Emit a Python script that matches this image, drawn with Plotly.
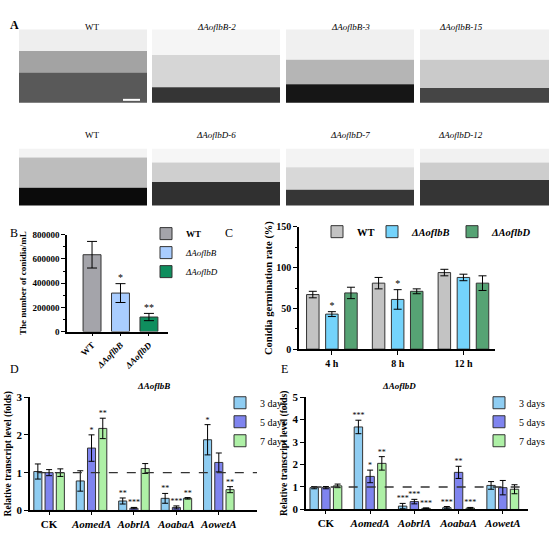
import numpy as np
import plotly.graph_objects as go

W, H = 550, 536
SERIF = '"Liberation Serif", "Times New Roman", serif'

# ---- panel B: conidia yield
strains = ["WT", "ΔAoflbB", "ΔAoflbD"]
conidia = [635000, 318000, 120000]
conidia_err = [110000, 78000, 30000]
conidia_sig = ["", "*", "**"]

# ---- panel C: germination rate
times = ["4 h", "8 h", "12 h"]
germ_wt = [67, 81, 94]
germ_wt_err = [4, 7, 4]
germ_flbB = [43, 61, 88]
germ_flbB_err = [3, 12, 4]
germ_flbD = [69, 71, 81]
germ_flbD_err = [7, 3, 9]
germ_flbB_sig = ["*", "*", ""]

# ---- panels D/E: transcript levels
genes = ["CK", "AomedA", "AobrlA", "AoabaA", "AowetA"]
days = ["3 days", "5 days", "7 days"]

flbB_3d = [1.03, 0.78, 0.25, 0.32, 1.87]
flbB_3d_err = [0.20, 0.27, 0.08, 0.13, 0.40]
flbB_5d = [1.00, 1.65, 0.06, 0.08, 1.27]
flbB_5d_err = [0.08, 0.35, 0.02, 0.04, 0.25]
flbB_7d = [1.00, 2.17, 1.11, 0.32, 0.55]
flbB_7d_err = [0.10, 0.27, 0.13, 0.02, 0.08]
flbB_3d_sig = ["", "", "**", "**", "*"]
flbB_5d_sig = ["", "*", "***", "***", ""]
flbB_7d_sig = ["", "**", "", "**", "**"]

flbD_3d = [0.97, 3.67, 0.15, 0.08, 1.07]
flbD_3d_err = [0.05, 0.30, 0.12, 0.05, 0.17]
flbD_5d = [0.97, 1.47, 0.35, 1.65, 0.97]
flbD_5d_err = [0.05, 0.28, 0.10, 0.27, 0.32]
flbD_7d = [1.05, 2.05, 0.05, 0.06, 0.90]
flbD_7d_err = [0.08, 0.30, 0.02, 0.03, 0.20]
flbD_3d_sig = ["", "***", "***", "***", ""]
flbD_5d_sig = ["", "*", "***", "**", ""]
flbD_7d_sig = ["", "**", "***", "***", ""]

# ---- panel A: photo tiles (labels only, photos drawn as plain tiles)
photo_labels_top = ["WT", "ΔAoflbB-2", "ΔAoflbB-3", "ΔAoflbB-15"]
photo_labels_bottom = ["WT", "ΔAoflbD-6", "ΔAoflbD-7", "ΔAoflbD-12"]


def px(x):
    return x / W


def py(y):
    return 1 - y / H


fig = go.Figure()

# panel B
b_colors = ["#a4a4aa", "#a9cdff", "#0f8e5e"]
for i, (name, v, e, c) in enumerate(zip(strains, conidia, conidia_err, b_colors)):
    label = "<b>" + name + "</b>" if name == "WT" else "<i>" + name + "</i>"
    fig.add_trace(go.Bar(
        x=[i], y=[v], width=0.63, name=label, marker_color=c,
        marker_line=dict(color="#333333", width=1),
        error_y=dict(type="data", array=[e], color="black", thickness=1, width=5),
        xaxis="x", yaxis="y", legend="legend"))
fig.add_trace(go.Scatter(
    x=np.arange(len(strains)), y=np.array(conidia) + np.array(conidia_err),
    text=conidia_sig, mode="text", textposition="top center",
    textfont=dict(size=10, family=SERIF), showlegend=False, xaxis="x", yaxis="y"))

# panel C (one small legend per entry so the keys sit where the original has them)
c_series = [("<b>WT</b>", germ_wt, germ_wt_err, "#c3c3c3", None, "legend2"),
            ("<b><i>ΔAoflbB</i></b>", germ_flbB, germ_flbB_err, "#74d3fb", germ_flbB_sig,
             "legend5"),
            ("<b><i>ΔAoflbD</i></b>", germ_flbD, germ_flbD_err, "#56a374", None, "legend6")]
c_off = [-0.29, 0.0, 0.29]
for (name, vals, errs, col, sig, lg), off in zip(c_series, c_off):
    xs = np.arange(len(times)) + off
    fig.add_trace(go.Bar(
        x=xs, y=vals, width=0.19, name=name, marker_color=col,
        marker_line=dict(color="#333333", width=1),
        error_y=dict(type="data", array=errs, color="black", thickness=1, width=4),
        xaxis="x2", yaxis="y2", legend=lg))
    if sig:
        fig.add_trace(go.Scatter(
            x=xs, y=np.array(vals) + np.array(errs), text=sig, mode="text",
            textposition="top center", textfont=dict(size=10, family=SERIF),
            showlegend=False, xaxis="x2", yaxis="y2"))

# panels D and E
day_colors = ["#8fcdf2", "#7f84ef", "#aef0a6"]
d_off = [-0.265, 0.0, 0.265]
panels = [
    ("x3", "y3", "legend3",
     [(flbB_3d, flbB_3d_err, flbB_3d_sig), (flbB_5d, flbB_5d_err, flbB_5d_sig),
      (flbB_7d, flbB_7d_err, flbB_7d_sig)]),
    ("x4", "y4", "legend4",
     [(flbD_3d, flbD_3d_err, flbD_3d_sig), (flbD_5d, flbD_5d_err, flbD_5d_sig),
      (flbD_7d, flbD_7d_err, flbD_7d_sig)]),
]
for xa, ya, lg, series in panels:
    for (vals, errs, sig), day, col, off in zip(series, days, day_colors, d_off):
        xs = np.arange(len(genes)) + off
        fig.add_trace(go.Bar(
            x=xs, y=vals, width=0.19, name=day, marker_color=col,
            marker_line=dict(color="#333333", width=1),
            error_y=dict(type="data", array=errs, color="black", thickness=1, width=3),
            xaxis=xa, yaxis=ya, legend=lg))
        fig.add_trace(go.Scatter(
            x=xs, y=np.array(vals) + np.array(errs), text=sig, mode="text",
            textposition="top center", textfont=dict(size=8, family=SERIF),
            showlegend=False, xaxis=xa, yaxis=ya))

axis_common = dict(showline=True, linecolor="black", linewidth=1.6, ticks="outside",
                   tickcolor="black", tickwidth=1.4, showgrid=False, zeroline=False,
                   fixedrange=True)
gene_ticks = ["<b>CK</b>"] + ["<b><i>" + g + "</i></b>" for g in genes[1:]]
legend_common = dict(xanchor="left", yanchor="top", bgcolor="rgba(0,0,0,0)", itemwidth=30)

fig.update_layout(
    width=W, height=H, margin=dict(l=0, r=0, t=0, b=0),
    plot_bgcolor="white", paper_bgcolor="white",
    barmode="overlay",
    font=dict(family=SERIF, color="black", size=10),
    xaxis=dict(axis_common, domain=[px(67), px(168)], anchor="y", range=[-0.88, 2.67],
               tickvals=list(range(len(strains))),
               ticktext=["<b>WT</b>"] + ["<b><i>" + s + "</i></b>" for s in strains[1:]],
               tickangle=-45, ticklen=3, tickfont=dict(family=SERIF, size=9)),
    yaxis=dict(axis_common, domain=[py(333), py(234)], anchor="x", range=[0, 800000],
               dtick=200000, ticklen=4, tickformat="d",
               tickfont=dict(family=SERIF, size=9, weight="bold"),
               minor=dict(dtick=100000, ticklen=2, ticks="outside", tickcolor="black"),
               title=dict(text="<b>The number of conidia/mL</b>",
                          font=dict(family=SERIF, size=9), standoff=4)),
    xaxis2=dict(axis_common, domain=[px(299), px(495)], anchor="y2", range=[-0.5, 2.48],
                tickvals=list(range(len(times))), ticktext=["<b>" + t + "</b>" for t in times],
                ticklen=4, tickfont=dict(family=SERIF, size=10)),
    yaxis2=dict(axis_common, domain=[py(351), py(226)], anchor="x2", range=[0, 150],
                dtick=50, ticklen=4, tickfont=dict(family=SERIF, size=10, weight="bold"),
                minor=dict(dtick=25, ticklen=2, ticks="outside", tickcolor="black"),
                title=dict(text="<b>Conidia germination rate (%)</b>",
                           font=dict(family=SERIF, size=10.5), standoff=2)),
    xaxis3=dict(axis_common, domain=[px(30), px(257)], anchor="y3", range=[-0.45, 4.9],
                tickvals=list(range(len(genes))), ticktext=gene_ticks, ticklen=3,
                tickfont=dict(family=SERIF, size=11)),
    yaxis3=dict(axis_common, domain=[py(516), py(400)], anchor="x3", range=[0, 3],
                dtick=1, ticklen=4, tickfont=dict(family=SERIF, size=11, weight="bold"),
                title=dict(text="<b>Relative transcript level (folds)</b>",
                           font=dict(family=SERIF, size=9.5), standoff=3)),
    xaxis4=dict(axis_common, domain=[px(306), px(528)], anchor="y4", range=[-0.45, 4.57],
                tickvals=list(range(len(genes))), ticktext=gene_ticks, ticklen=3,
                tickfont=dict(family=SERIF, size=11)),
    yaxis4=dict(axis_common, domain=[py(515), py(400)], anchor="x4", range=[0, 5],
                dtick=1, ticklen=4, tickfont=dict(family=SERIF, size=11, weight="bold"),
                title=dict(text="<b>Relative transcript level (folds)</b>",
                           font=dict(family=SERIF, size=9.5), standoff=3)),
    legend=dict(legend_common, x=px(146), y=py(218), font=dict(family=SERIF, size=9)),
    legend2=dict(legend_common, x=px(317), y=py(216), font=dict(family=SERIF, size=10.5)),
    legend5=dict(legend_common, x=px(372), y=py(216), font=dict(family=SERIF, size=10.5)),
    legend6=dict(legend_common, x=px(452), y=py(216), font=dict(family=SERIF, size=10.5)),
    legend3=dict(legend_common, x=px(220), y=py(391), font=dict(family=SERIF, size=10)),
    legend4=dict(legend_common, x=1, xanchor="right", y=py(391),
                 font=dict(family=SERIF, size=10)),
)

shapes = []
annotations = []

# dashed reference lines at 1-fold
for xa, ya in [("x3", "y3"), ("x4", "y4")]:
    shapes.append(dict(type="line", xref=xa + " domain", yref=ya, x0=0.03, x1=1,
                       y0=1, y1=1, line=dict(color="#333333", width=1.4, dash="dash")))

# panel A tiles: columns, rows, and per tile (haze top, agar top, sky, haze, agar colours)
cols = [(19, 147), (152, 280), (286, 414), (420, 549)]
rows = [(24, 99), (146, 204)]
tiles = [[(46, 68, "#eeeeee", "#a3a3a3", "#595959"),
          (50, 83, "#f5f5f5", "#d6d6d6", "#353535"),
          (55, 80, "#f0f0f0", "#b5b5b5", "#161616"),
          (55, 84, "#f0f0f0", "#cacaca", "#454545")],
         [(155, 186, "#f3f3f3", "#bdbdbd", "#0b0b0b"),
          (160, 180, "#f6f6f6", "#cfcfcf", "#303030"),
          (165, 188, "#f3f3f3", "#d8d8d8", "#363636"),
          (160, 178, "#f1f1f1", "#cdcdcd", "#353535")]]
for r, (top, bot) in enumerate(rows):
    for c, (left, right) in enumerate(cols):
        haze_y, band_y, sky, haze, agar = tiles[r][c]
        for y0, y1, colr in [(haze_y, top, sky), (band_y, haze_y, haze), (bot, band_y, agar)]:
            shapes.append(dict(type="rect", xref="paper", yref="paper",
                               x0=px(left), x1=px(right), y0=py(y0), y1=py(y1),
                               fillcolor=colr, line_width=0, layer="below"))
# scale bar
shapes.append(dict(type="line", xref="paper", yref="paper", x0=px(123), x1=px(140),
                   y0=py(96), y1=py(96), line=dict(color="white", width=2)))

for labels, y in [(photo_labels_top, 14), (photo_labels_bottom, 125)]:
    for lab, (left, right) in zip(labels, cols):
        txt = lab if lab == "WT" else "<i>" + lab + "</i>"
        annotations.append(dict(text=txt, x=px((left + right) / 2), y=py(y),
                                xref="paper", yref="paper", showarrow=False,
                                font=dict(size=9, family=SERIF)))

for letter, x, y in [("<b>A</b>", 8, 10), ("B", 8, 232), ("C", 229, 232),
                     ("D", 8, 381), ("E", 284, 381)]:
    annotations.append(dict(text=letter, x=px(x), y=py(y), xref="paper", yref="paper",
                            showarrow=False, font=dict(size=12, family=SERIF)))

annotations.append(dict(text="<b><i>ΔAoflbB</i></b>", x=px(135), y=py(396),
                        xref="paper", yref="paper", showarrow=False,
                        font=dict(size=9, family=SERIF)))
annotations.append(dict(text="<b><i>ΔAoflbD</i></b>", x=px(418), y=py(396),
                        xref="paper", yref="paper", showarrow=False,
                        font=dict(size=9, family=SERIF)))

fig.update_layout(shapes=shapes, annotations=annotations)

fig.write_html("out.html", config={"displayModeBar": False},
               post_script="document.body.style.margin='0';")
